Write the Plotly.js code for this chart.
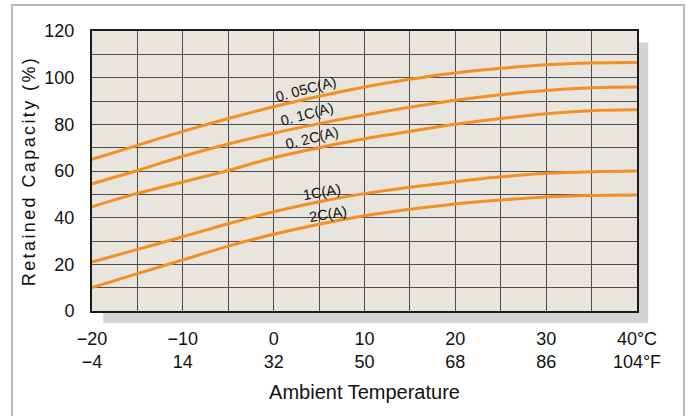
<!DOCTYPE html>
<html><head><meta charset="utf-8">
<script src="https://cdn.plot.ly/plotly-3.0.1.min.js"></script>
<style>
html,body{margin:0;padding:0;background:#fff;}
#frame{position:absolute;left:11px;top:4px;width:674px;height:440px;border:2px solid #b8b8b8;box-sizing:border-box;}
#chart{position:absolute;left:0;top:0;width:691px;height:416px;}
.ytitle{letter-spacing:2.4px;}
</style></head><body>
<div id="frame"></div><div id="chart"></div>
<script>
// Ambient temperature (°C)
const temps = [-20,-15,-10,-5,0,5,10,15,20,25,30,35,40];
// Retained capacity (%) per discharge rate
const c005 = [65,71,77,82.5,87.5,92,96,99.3,102,104,105.5,106.3,106.5];
const c01  = [54.5,60.2,66.3,71.6,76.2,80.3,84,87.3,90.3,92.7,94.5,95.7,96];
const c02  = [44.7,50.4,55.3,60.2,65.7,70,73.8,77,80,82.5,84.5,85.8,86.2];
const c1   = [21,26.4,31.8,37.4,42.5,46.8,50.3,53,55.4,57.5,59,59.7,60];
const c2   = [10,16,21.9,27.8,32.9,37.2,40.8,43.6,45.9,47.6,48.9,49.5,49.7];
const seriesNames = ['0. 05C(A)','0. 1C(A)','0. 2C(A)','1C(A)','2C(A)'];
const seriesVals = [c005,c01,c02,c1,c2];
// tick labels
const cTicks  = [-20,-10,0,10,20,30,40];
const cLabels = ['\u221220','\u221210','0','10','20','30','40\u00b0C'];
const fLabels = ['\u22124','14','32','50','68','86','104\u00b0F'];
const yTicks  = [0,20,40,60,80,100,120];
// label placement (temperature along curve, angle, pixel shift)
const labelT     = [3.6,3.7,4.2,5.3,6.0];
const labelAngle = [-15,-15,-14,-10,-10];
const labelShift = [10,12,11,9,9];

const orange = '#f39020';
const sans = '"Liberation Sans",Arial,sans-serif';

function interp(arr, t){
  for(let i=0;i<temps.length-1;i++){
    if(t>=temps[i] && t<=temps[i+1]){
      const f=(t-temps[i])/(temps[i+1]-temps[i]);
      return arr[i]+f*(arr[i+1]-arr[i]);
    }
  }
  return arr[arr.length-1];
}

const traces = seriesVals.map((v,i)=>({
  x: temps, y: v, type:'scatter', mode:'lines', name: seriesNames[i],
  line:{color:orange, width:3, shape:'spline', smoothing:1}, hoverinfo:'skip'
}));

const annotations = seriesVals.map((v,i)=>({
  x: labelT[i], y: interp(v,labelT[i]), xref:'x', yref:'y',
  text: seriesNames[i], showarrow:false, textangle: labelAngle[i],
  yshift: labelShift[i], font:{family:sans, size:14.5, color:'#111'}
}));

const xTickText = cLabels.map((c,i)=> c + '<br>' + fLabels[i]);

const layout = {
  width:691, height:416,
  margin:{l:92, r:54, t:31, b:105},
  paper_bgcolor:'rgba(0,0,0,0)', plot_bgcolor:'rgba(0,0,0,0)',
  showlegend:false,
  font:{family:sans, color:'#111'},
  xaxis:{
    range:[-20,40], tickmode:'array', tickvals:cTicks, ticktext:xTickText,
    showgrid:true, gridcolor:'#4d4d4d', gridwidth:1,
    minor:{dtick:5, tick0:-20, showgrid:true, gridcolor:'#4d4d4d', gridwidth:1},
    zeroline:false, showline:true, linecolor:'#1a1a1a', linewidth:2, mirror:true,
    ticks:'', tickfont:{family:sans, size:18, color:'#111'}, ticklabelstandoff:10,
    title:{text:'Ambient Temperature', font:{family:sans, size:20, color:'#111'}, standoff:14},
    fixedrange:true
  },
  yaxis:{
    range:[0,120], tickmode:'array', tickvals:yTicks,
    showgrid:true, gridcolor:'#4d4d4d', gridwidth:1,
    minor:{dtick:10, tick0:0, showgrid:true, gridcolor:'#4d4d4d', gridwidth:1},
    zeroline:false, showline:true, linecolor:'#1a1a1a', linewidth:2, mirror:true,
    ticks:'', tickfont:{family:sans, size:18, color:'#111'}, ticklabelstandoff:12,
    title:{text:'Retained Capacity (%)', font:{family:sans, size:18, color:'#111'}, standoff:4},
    fixedrange:true
  },
  shapes:[
    {type:'rect', xref:'paper', yref:'paper', x0:0.0207, x1:1.0207, y0:-0.043, y1:0.96,
     fillcolor:'#d3d5d5', line:{width:0}, layer:'below'},
    {type:'rect', xref:'paper', yref:'paper', x0:0, x1:1, y0:0, y1:1,
     fillcolor:'#e8e5de', line:{width:0}, layer:'below'}
  ],
  annotations: annotations
};

Plotly.newPlot('chart', traces, layout, {displayModeBar:false, staticPlot:true});
</script>
</body></html>
